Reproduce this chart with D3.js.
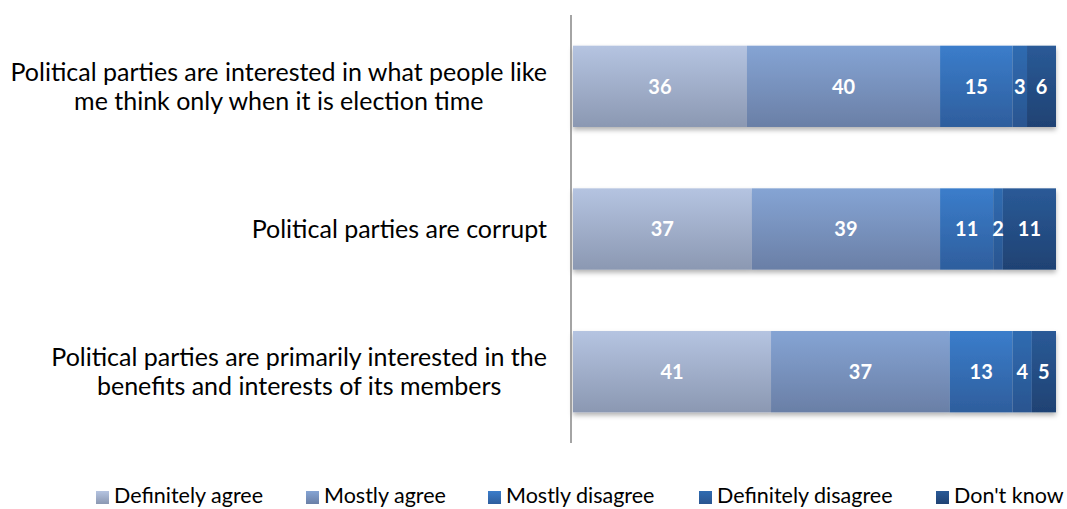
<!DOCTYPE html>
<html>
<head>
<meta charset="utf-8">
<script src="https://cdn.jsdelivr.net/npm/d3@7"></script>
<style>
  html, body { margin: 0; padding: 0; background: #fff; }
  svg { display: block; font-family: Lato, "Open Sans", sans-serif; }
</style>
</head>
<body>
<svg id="chart" width="1067" height="509"></svg>
<script>
// Survey statements (each label split into display lines)
const categories = [
  ["Political parties are interested in what people like", "me think only when it is election time"],
  ["Political parties are corrupt"],
  ["Political parties are primarily interested in the", "benefits and interests of its members"]
];
const seriesNames = ["Definitely agree", "Mostly agree", "Mostly disagree", "Definitely disagree", "Don't know"];
const definitelyAgree    = [36, 37, 41];
const mostlyAgree        = [40, 39, 37];
const mostlyDisagree     = [15, 11, 13];
const definitelyDisagree = [3, 2, 4];
const dontKnow           = [6, 11, 5];
const seriesValues = [definitelyAgree, mostlyAgree, mostlyDisagree, definitelyDisagree, dontKnow];

// top / bottom colours of each segment's vertical gradient
const colorTop    = ["#b5c4e1", "#85a4d4", "#3b7dcb", "#2f6bb1", "#2a5a97"];
const colorBottom = ["#8b98b2", "#6a7fa6", "#2e5e9d", "#2a5590", "#1f4273"];

const svg = d3.select("#chart");
const margin = { left: 573, right: 11, top: 15, bottom: 66 };
const W = 1067, H = 509;

const x = d3.scaleLinear().domain([0, 100]).range([margin.left, W - margin.right]);
const y = d3.scaleBand().domain(d3.range(categories.length))
  .range([margin.top, H - margin.bottom]).paddingInner(0.43).paddingOuter(0.215);

const defs = svg.append("defs");
seriesNames.forEach((s, i) => {
  const g = defs.append("linearGradient").attr("id", "grad" + i)
    .attr("x1", 0).attr("y1", 0).attr("x2", 0).attr("y2", 1);
  g.append("stop").attr("offset", "0%").attr("stop-color", colorTop[i]);
  g.append("stop").attr("offset", "100%").attr("stop-color", colorBottom[i]);
});
const shadow = defs.append("filter").attr("id", "shadow")
  .attr("x", "-5%").attr("y", "-10%").attr("width", "110%").attr("height", "130%");
shadow.append("feDropShadow").attr("dx", 0).attr("dy", 3).attr("stdDeviation", 2.5)
  .attr("flood-color", "#000").attr("flood-opacity", 0.3);

// stacked data
const rows = categories.map((c, ci) => {
  const out = {};
  seriesNames.forEach((s, si) => out[s] = seriesValues[si][ci]);
  return out;
});
const stacked = d3.stack().keys(seriesNames)(rows);

// bar rows (shadow drawn per row)
const barRows = svg.append("g").selectAll("g.row")
  .data(d3.range(categories.length)).join("g")
  .attr("class", "row")
  .attr("filter", "url(#shadow)");

barRows.each(function (ci) {
  const g = d3.select(this);
  stacked.forEach((layer, si) => {
    const d = layer[ci];
    g.append("rect")
      .attr("x", x(d[0]))
      .attr("y", y(ci))
      .attr("width", x(d[1]) - x(d[0]))
      .attr("height", y.bandwidth())
      .attr("fill", `url(#grad${si})`);
  });
});

// value labels
const labels = svg.append("g");
stacked.forEach((layer, si) => {
  layer.forEach((d, ci) => {
    labels.append("text")
      .attr("x", (x(d[0]) + x(d[1])) / 2)
      .attr("y", y(ci) + y.bandwidth() / 2)
      .attr("dy", "0.36em")
      .attr("text-anchor", "middle")
      .attr("fill", "#fff")
      .attr("font-weight", "bold")
      .attr("font-size", 20)
      .text(d[1] - d[0]);
  });
});

// vertical category axis line
svg.append("line")
  .attr("x1", margin.left - 2).attr("x2", margin.left - 2)
  .attr("y1", margin.top).attr("y2", H - margin.bottom)
  .attr("stroke", "#868686").attr("stroke-width", 1.5);

// category labels: block right-aligned to the axis, lines centred within it
const catG = svg.append("g");
const labelRight = 547;
categories.forEach((lines, ci) => {
  const cy = y(ci) + y.bandwidth() / 2;
  const lh = 29;
  const t = catG.append("text")
    .attr("text-anchor", "middle")
    .attr("font-size", 25)
    .attr("fill", "#000");
  const spans = lines.map((ln, li) => t.append("tspan")
    .attr("y", cy + (li - (lines.length - 1) / 2) * lh)
    .attr("dy", "0.36em")
    .text(ln));
  const maxW = d3.max(spans, s => s.node().getComputedTextLength());
  spans.forEach(s => s.attr("x", labelRight - maxW / 2));
});

// legend
const legendX = [96, 306, 488, 699, 936];
const legend = svg.append("g");
seriesNames.forEach((s, i) => {
  const g = legend.append("g").attr("transform", `translate(${legendX[i]},496)`);
  g.append("rect").attr("x", 0).attr("y", -5).attr("width", 13).attr("height", 13)
    .attr("fill", `url(#grad${i})`);
  g.append("text").attr("x", 18).attr("y", 0).attr("dy", "0.33em")
    .attr("font-size", 21.5).attr("fill", "#000").text(s);
});
</script>
</body>
</html>
